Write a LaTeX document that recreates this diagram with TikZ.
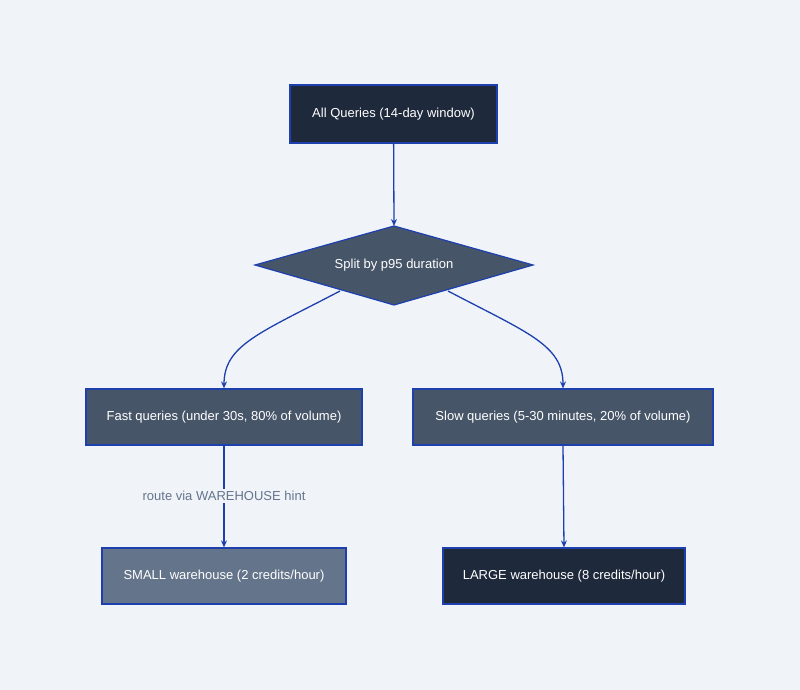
\documentclass[tikz,border=0pt]{standalone}
\usepackage{fontspec}
\setmainfont{Liberation Sans}
\usetikzlibrary{arrows.meta}
\definecolor{bg}{HTML}{F0F4F9}
\definecolor{edge}{HTML}{1E40AF}
\definecolor{dk}{HTML}{1E293B}
\definecolor{md}{HTML}{475569}
\definecolor{lt}{HTML}{64748B}
\begin{document}
\begin{tikzpicture}[x=1pt,y=-1pt,
  box/.style={draw=edge,line width=1.2pt,text=white,font=\fontsize{13}{15}\selectfont,inner sep=0pt},
  arr/.style={draw=edge,line width=1.3pt,-{Stealth[length=7pt,width=6pt]}}]
\fill[bg] (0,0) rectangle (800,690);
\useasboundingbox (0,0) rectangle (800,690);
\node[box,fill=dk,minimum width=207pt,minimum height=58pt] (a) at (393.5,114) {All Queries (14-day window)};
\path[draw=edge,line width=1.2pt,fill=md] (255,265) -- (394,226) -- (533,265) -- (394,305) -- cycle;
\node[text=white,font=\fontsize{13}{15}\selectfont] (d) at (394,265) {Split by p95 duration};
\coordinate (dt) at (394,226);
\coordinate (dl) at (340,291);
\coordinate (dr) at (448,291);
\node[box,fill=md,minimum width=276pt,minimum height=56pt] (f) at (224,417) {Fast queries (under 30s, 80\% of volume)};
\node[box,fill=md,minimum width=300pt,minimum height=56pt] (s) at (563,417) {Slow queries (5-30 minutes, 20\% of volume)};
\node[box,fill=lt,minimum width=244pt,minimum height=56pt] (sm) at (224,576) {SMALL warehouse (2 credits/hour)};
\node[box,fill=dk,minimum width=242pt,minimum height=56pt] (lg) at (564,576) {LARGE warehouse (8 credits/hour)};
\draw[arr] (a) -- (dt);
\draw[arr] (dl) .. controls (260,333) and (224,345) .. (f.north);
\draw[arr] (dr) .. controls (528,333) and (563,345) .. (s.north);
\node[fill=bg,text=lt,font=\fontsize{13}{15}\selectfont,inner sep=2pt] (lab) at (224,496) {route via WAREHOUSE hint};
\draw[draw=edge,line width=1.3pt] (f.south) -- (lab.north);
\draw[arr] (lab.south) -- (sm.north);
\draw[arr] (s.south) -- (lg.north);
\end{tikzpicture}
\end{document}
